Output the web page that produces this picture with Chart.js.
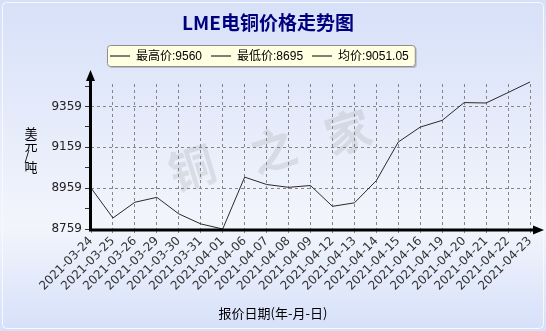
<!DOCTYPE html>
<html><head><meta charset="utf-8">
<script src="https://cdn.jsdelivr.net/npm/chart.js@4/dist/chart.umd.min.js"></script>
<style>html,body{margin:0;padding:0;background:#c9d7f3;overflow:hidden}</style>
</head><body><canvas id="c" width="546" height="331"></canvas>
<script>
const dates = ['2021-03-24','2021-03-25','2021-03-26','2021-03-29','2021-03-30','2021-03-31','2021-04-01','2021-04-06','2021-04-07','2021-04-08','2021-04-09','2021-04-12','2021-04-13','2021-04-14','2021-04-15','2021-04-16','2021-04-19','2021-04-20','2021-04-21','2021-04-22','2021-04-23'];
const prices = [8960, 8813, 8890, 8914, 8833, 8784, 8759, 9013, 8977, 8963, 8972, 8870, 8887, 8996, 9185, 9258, 9291, 9378, 9376, 9427, 9479];
const yTickValues = [8759, 8959, 9159, 9359];
const yMax = 9469;
const statNames = ['最高价', '最低价', '均价'];
const statValues = ['9560', '8695', '9051.05'];
const titleText = 'LME电铜价格走势图';
const yTitleChars = ['美', '元', '/', '吨'];
const xTitleText = '报价日期(年-月-日)';
const watermarkChars = ['铜', '之', '家'];

const FONT = '"DejaVu Sans", "Noto Sans CJK SC", sans-serif';
const LFONT = '"Liberation Sans", "Noto Sans CJK SC", sans-serif';
const CJK = '"Noto Sans CJK SC", "DejaVu Sans", sans-serif';
const yMin = yTickValues[0];
const minorStep = (yTickValues[1] - yTickValues[0]) / 6;
const isMajor = v => yTickValues.some(t => Math.abs(t - v) < 0.01);

const deco = {
  id: 'deco',
  beforeDraw(chart) {
    const ctx = chart.ctx, W = chart.width, H = chart.height;
    ctx.save();
    const g = ctx.createLinearGradient(0, 0, 0, H);
    g.addColorStop(0, '#d6e0f8');
    g.addColorStop(0.68, '#f3f5fc');
    g.addColorStop(1, '#d5e0f9');
    ctx.fillStyle = g;
    ctx.fillRect(0, 0, W, H);
    ctx.strokeStyle = '#f7f9ff';
    ctx.lineWidth = 1;
    ctx.beginPath();
    ctx.roundRect(2.5, 2.5, W - 5, H - 5, 4);
    ctx.stroke();
    // watermark
    ctx.fillStyle = 'rgba(150,150,150,0.22)';
    ctx.font = 'bold 46px ' + CJK;
    ctx.textAlign = 'center';
    ctx.textBaseline = 'middle';
    const pos = [[192, 168], [273, 150], [348, 132]];
    watermarkChars.forEach((ch, i) => {
      ctx.save();
      ctx.translate(pos[i][0], pos[i][1]);
      ctx.rotate(-0.3);
      ctx.fillText(ch, 0, 0);
      ctx.restore();
    });
    ctx.restore();
  },
  afterDraw(chart) {
    const ctx = chart.ctx, a = chart.chartArea, W = chart.width;
    ctx.save();
    // axes with arrows
    ctx.strokeStyle = '#000';
    ctx.fillStyle = '#000';
    ctx.lineWidth = 3;
    const ax = a.left - 0.5, ay = a.bottom + 1;
    ctx.beginPath();
    ctx.moveTo(ax, ay + 1.5);
    ctx.lineTo(ax, a.top - 6);
    ctx.moveTo(ax - 1.5, ay);
    ctx.lineTo(a.right + 6, ay);
    ctx.stroke();
    ctx.beginPath();
    ctx.moveTo(ax, a.top - 14);
    ctx.lineTo(ax - 4.5, a.top - 3);
    ctx.lineTo(ax + 4.5, a.top - 3);
    ctx.closePath();
    ctx.fill();
    ctx.beginPath();
    ctx.moveTo(a.right + 14, ay);
    ctx.lineTo(a.right + 3, ay - 4.5);
    ctx.lineTo(a.right + 3, ay + 4.5);
    ctx.closePath();
    ctx.fill();
    // title
    ctx.fillStyle = '#00007f';
    ctx.font = 'bold 19px ' + CJK;
    ctx.textAlign = 'center';
    ctx.textBaseline = 'middle';
    ctx.fillText(titleText, 268, 23);
    // legend
    ctx.font = '12px ' + LFONT;
    const texts = statNames.map((n, i) => n + ':' + statValues[i]);
    const lineLen = 20, gap1 = 6, gap2 = 9, padL = 3, padR = 6;
    let total = padL + padR;
    texts.forEach((t, i) => { total += lineLen + gap1 + ctx.measureText(t).width + (i < texts.length - 1 ? gap2 : 0); });
    const bx = 107, by = 45, bw = total, bh = 21;
    ctx.fillStyle = 'rgba(0,0,0,0.18)';
    ctx.beginPath(); ctx.roundRect(bx + 2, by + 2, bw, bh, 3); ctx.fill();
    ctx.fillStyle = '#ffffe1';
    ctx.strokeStyle = '#8e8e8e';
    ctx.lineWidth = 1;
    ctx.beginPath(); ctx.roundRect(bx + 0.5, by + 0.5, bw, bh, 3); ctx.fill(); ctx.stroke();
    let x = bx + padL;
    const cy = by + bh / 2 + 1;
    ctx.textAlign = 'left';
    ctx.fillStyle = '#000';
    ctx.strokeStyle = '#000';
    texts.forEach((t, i) => {
      ctx.beginPath(); ctx.moveTo(x, cy - 0.5); ctx.lineTo(x + lineLen, cy - 0.5); ctx.stroke();
      x += lineLen + gap1;
      ctx.fillText(t, x, cy);
      x += ctx.measureText(t).width + gap2;
    });
    // y title
    ctx.font = '13px ' + CJK;
    ctx.textAlign = 'center';
    const yPos = [[31, 133], [31, 145], [27, 155], [31, 167]];
    yTitleChars.forEach((ch, i) => ctx.fillText(ch, yPos[i][0], yPos[i][1]));
    // x title
    ctx.font = '13px ' + CJK;
    ctx.fillText(xTitleText, W / 2, 313);
    ctx.restore();
  }
};

new Chart(document.getElementById('c'), {
  type: 'line',
  data: {
    labels: dates,
    datasets: [{
      data: prices,
      borderColor: '#2a2a2a',
      borderWidth: 1,
      pointRadius: 0,
      tension: 0,
      clip: 6
    }]
  },
  options: {
    responsive: false,
    devicePixelRatio: 1,
    animation: false,
    layout: { padding: { top: 84, left: 0, right: 16, bottom: 0 } },
    plugins: { legend: { display: false }, tooltip: { enabled: false }, title: { display: false } },
    scales: {
      x: {
        type: 'category',
        offset: false,
        afterFit: s => { s.height = 102; },
        grid: { color: '#858585', lineWidth: 1, tickLength: 4, tickColor: '#858585', tickBorderDash: [] },
        border: { display: false, dash: [3, 3] },
        ticks: { autoSkip: false, maxRotation: 45, minRotation: 45, padding: 1, color: '#333', font: { family: FONT, size: 12 } }
      },
      y: {
        type: 'linear',
        min: yMin,
        max: yMax,
        afterFit: s => { s.width = 91; },
        afterBuildTicks: s => {
          const t = [];
          for (let v = yMin; v <= yMax + 0.01; v += minorStep) t.push({ value: v });
          s.ticks = t;
        },
        grid: {
          color: c => (c.tick && isMajor(c.tick.value) && c.tick.value > yMin) ? '#858585' : 'rgba(0,0,0,0)',
          lineWidth: 1, tickLength: 6, tickColor: '#333', tickBorderDash: []
        },
        border: { display: false, dash: [3, 3] },
        ticks: {
          padding: 3, color: '#222', font: { family: FONT, size: 12 },
          callback: v => isMajor(v) ? String(Math.round(v)) : ''
        }
      }
    }
  },
  plugins: [deco]
});
</script>
</body></html>
